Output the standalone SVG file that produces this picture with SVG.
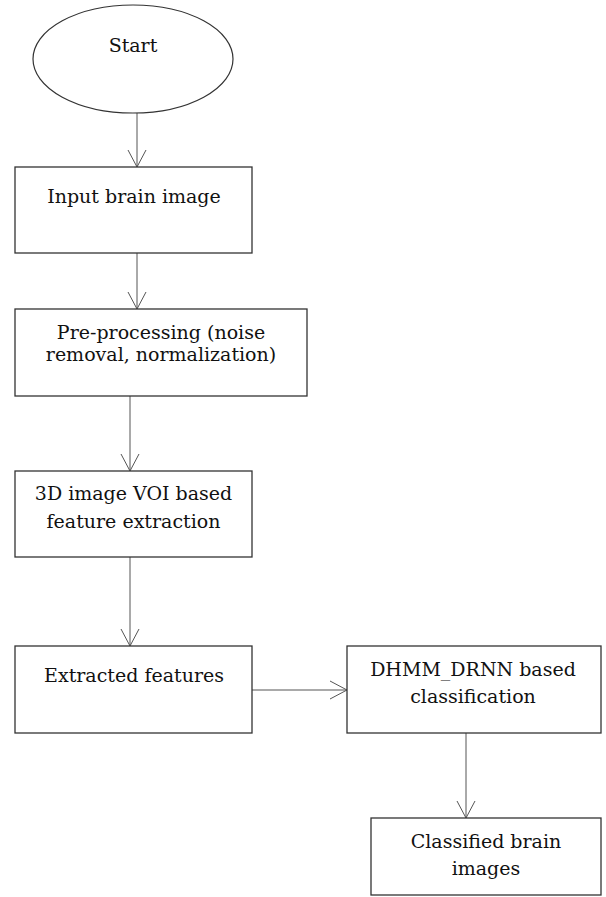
<svg xmlns="http://www.w3.org/2000/svg" width="606" height="897" viewBox="0 0 606 897">
<style>
.box{fill:#fff;stroke:#333;stroke-width:1.3}
.lbl{font-family:"DejaVu Serif","Liberation Serif",serif;font-size:19px;fill:#111;text-anchor:middle}
.edge{stroke:#555;stroke-width:1;fill:none}
</style>
<defs>
<marker id="arr" markerUnits="userSpaceOnUse" markerWidth="20" markerHeight="22" viewBox="-18 -10 20 20" refX="0" refY="0" orient="auto" overflow="visible">
<path d="M-17,-9 L0,0 L-17,9" fill="none" stroke="#555" stroke-width="1"/>
</marker>
</defs>
<rect width="606" height="897" fill="#fff"/>
<g id="connectors">
<line class="edge" x1="137" y1="113" x2="137" y2="167" marker-end="url(#arr)"/>
<line class="edge" x1="137" y1="253" x2="137" y2="309" marker-end="url(#arr)"/>
<line class="edge" x1="130" y1="396" x2="130" y2="471" marker-end="url(#arr)"/>
<line class="edge" x1="130" y1="557" x2="130" y2="646" marker-end="url(#arr)"/>
<line class="edge" x1="252" y1="690" x2="347" y2="690" marker-end="url(#arr)"/>
<line class="edge" x1="466" y1="733" x2="466" y2="818" marker-end="url(#arr)"/>
</g>
<g id="start">
<ellipse cx="133" cy="59" rx="100" ry="54" fill="#fff" stroke="#333" stroke-width="1.2"/>
<text class="lbl" x="133" y="52">Start</text>
</g>
<g id="input">
<rect class="box" x="15" y="167" width="237" height="86"/>
<text class="lbl" x="134" y="203">Input brain image</text>
</g>
<g id="preprocess">
<rect class="box" x="15" y="309" width="292" height="87"/>
<text class="lbl" x="161" y="339">Pre-processing (noise</text>
<text class="lbl" x="161" y="361">removal, normalization)</text>
</g>
<g id="voi">
<rect class="box" x="15" y="471" width="237" height="86"/>
<text class="lbl" x="133.5" y="500">3D image VOI based</text>
<text class="lbl" x="133.5" y="528">feature extraction</text>
</g>
<g id="features">
<rect class="box" x="15" y="646" width="237" height="87"/>
<text class="lbl" x="134" y="682">Extracted features</text>
</g>
<g id="classify">
<rect class="box" x="347" y="646" width="254" height="87"/>
<text class="lbl" x="473" y="676">DHMM_DRNN based</text>
<text class="lbl" x="473" y="703">classification</text>
</g>
<g id="classified">
<rect class="box" x="371" y="818" width="230" height="77"/>
<text class="lbl" x="486" y="848">Classified brain</text>
<text class="lbl" x="486" y="875">images</text>
</g>
</svg>
